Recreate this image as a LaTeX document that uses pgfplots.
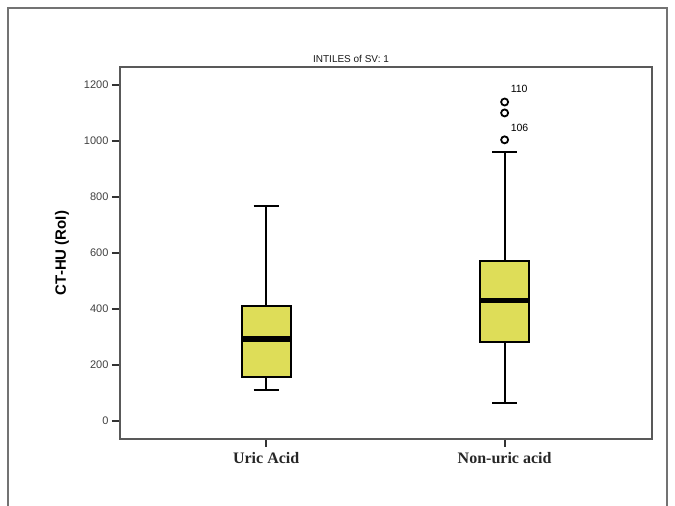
\documentclass[border=0pt]{standalone}
\usepackage{fontspec}
\setmainfont{Liberation Sans}
\newfontfamily\timesfont{Liberation Serif}
\usepackage{pgfplots}
\pgfplotsset{compat=1.18}
\definecolor{boxyellow}{RGB}{222,221,88}
\begin{document}
\begin{tikzpicture}
\path[use as bounding box] (0pt,0pt) rectangle (675pt,506pt);
\draw[black!55, line width=1.2pt] (8pt,-2pt) -- (8pt,498pt) -- (667pt,498pt) -- (667pt,-2pt);
\begin{axis}[
  at={(120pt,67pt)}, anchor=south west,
  width=532pt, height=372pt, scale only axis,
  xmin=0.387, xmax=2.618, ymin=-64, ymax=1264,
  xtick={1,2}, xticklabels={Uric Acid, Non-uric acid},
  ytick={0,200,...,1200},
  tick align=outside, major tick length=8pt,
  tick pos=left,
  axis line style={line width=2pt, draw=black!65},
  major tick style={line width=1.8pt, draw=black!80},
  /pgf/number format/assume math mode=true,
  /pgf/number format/1000 sep={},
  yticklabel style={font=\fontsize{11}{12}\selectfont, text=black!75},
  xticklabel style={font=\timesfont\bfseries\fontsize{16}{18}\selectfont, text=black!85, yshift=-2pt},
  clip=false,
]
% Uric Acid: whiskers 111 / 768, quartiles 157 / 411, median 293
\addplot[black, line width=2pt] coordinates {(1,411) (1,768)};
\addplot[black, line width=2pt] coordinates {(1,157) (1,111)};
\addplot[black, line width=2pt] coordinates {(0.9475,768) (1.0525,768)};
\addplot[black, line width=2pt] coordinates {(0.9475,111) (1.0525,111)};
\addplot[draw=black, line width=2pt, fill=boxyellow] coordinates {(0.8975,157) (1.1025,157) (1.1025,411) (0.8975,411)} -- cycle;
\addplot[black, line width=5.5pt] coordinates {(0.8975,293) (1.1025,293)};
% Non-uric acid: whiskers 64 / 961, quartiles 282 / 571, median 430
\addplot[black, line width=2pt] coordinates {(2,571) (2,961)};
\addplot[black, line width=2pt] coordinates {(2,282) (2,64)};
\addplot[black, line width=2pt] coordinates {(1.9475,961) (2.0525,961)};
\addplot[black, line width=2pt] coordinates {(1.9475,64) (2.0525,64)};
\addplot[draw=black, line width=2pt, fill=boxyellow] coordinates {(1.8975,282) (2.1025,282) (2.1025,571) (1.8975,571)} -- cycle;
\addplot[black, line width=5.5pt] coordinates {(1.8975,430) (2.1025,430)};
% outliers
\addplot[only marks, mark=o, mark size=3.5pt, line width=1.8pt, black] coordinates {(2,1139) (2,1100) (2,1004)};
\node[anchor=west, font=\fontsize{10.5}{12}\selectfont, inner sep=0pt] at (axis cs:2.025,1186) {110};
\node[anchor=west, font=\fontsize{10.5}{12}\selectfont, inner sep=0pt] at (axis cs:2.025,1046) {106};
\end{axis}
\node[font=\fontsize{10}{11}\selectfont, text=black!90] at (351pt,447pt) {INTILES of SV: 1};
\node[rotate=90, font=\bfseries\fontsize{15}{18}\selectfont] at (62pt,253pt) {CT-HU (RoI)};
\end{tikzpicture}
\end{document}
